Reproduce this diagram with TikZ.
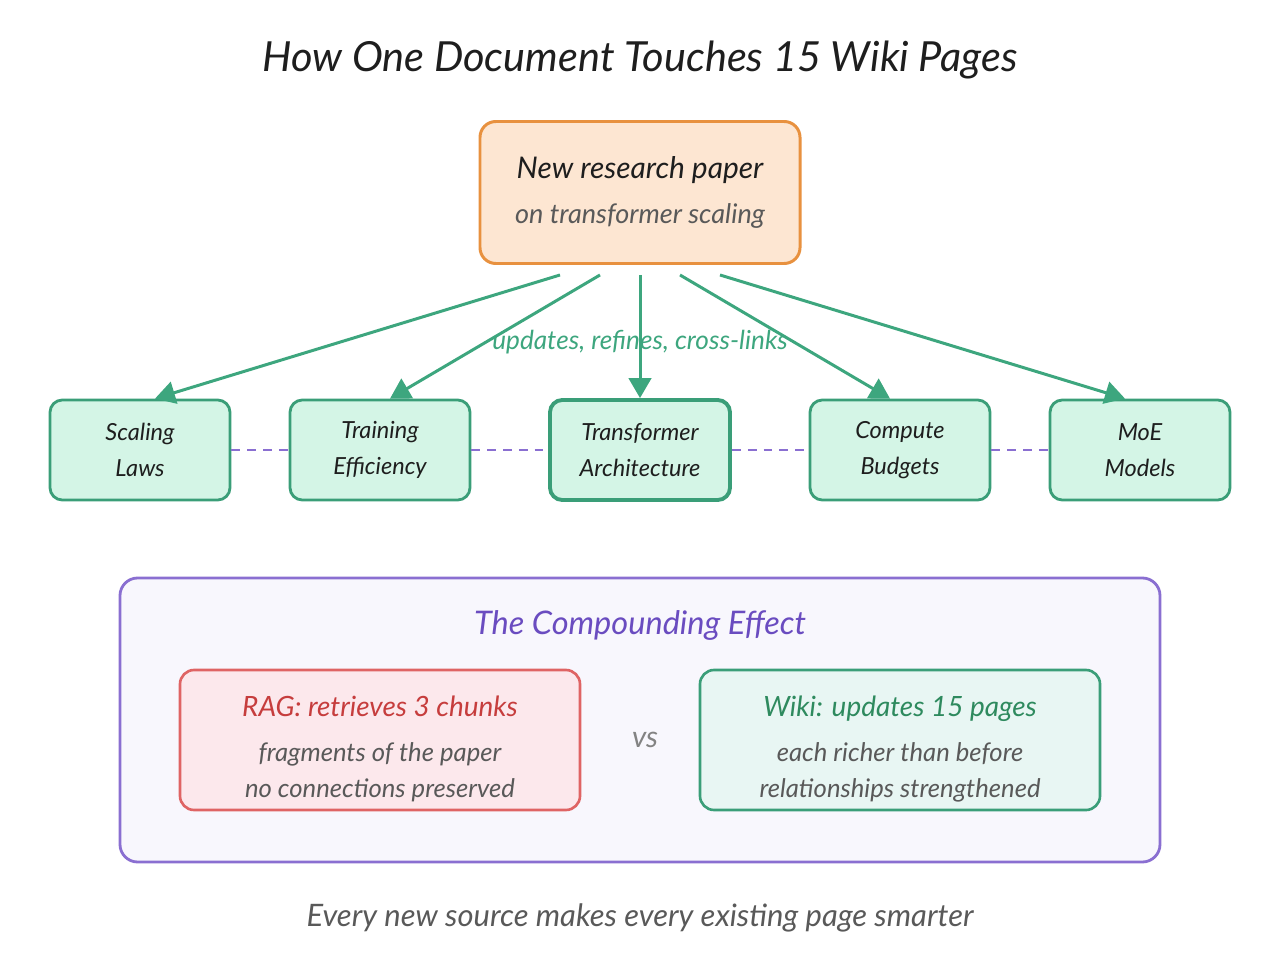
\documentclass[tikz,border=0pt]{standalone}
\usepackage{fontspec}
\setmainfont{Lato}
\usepackage{tikz}
\usetikzlibrary{positioning,arrows.meta}
\definecolor{SrcOrange}{HTML}{E8913F}
\definecolor{SrcFill}{HTML}{FDE6D2}
\definecolor{LinkGreen}{HTML}{3DA67E}
\definecolor{PageFill}{HTML}{D4F5E6}
\definecolor{PageEdge}{HTML}{3A9E78}
\definecolor{BondPurple}{HTML}{8A6FD1}
\definecolor{BondTitle}{HTML}{6A4CC0}
\definecolor{BondFill}{HTML}{F8F7FD}
\definecolor{RagRed}{HTML}{DF6464}
\definecolor{RagText}{HTML}{C63D3D}
\definecolor{RagFill}{HTML}{FCE8EC}
\definecolor{WikiText}{HTML}{2E8A5E}
\definecolor{WikiFill}{HTML}{E8F6F3}
\definecolor{InkDark}{HTML}{1E1E1E}
\definecolor{InkGray}{HTML}{595959}
\tikzset{
  srcnode/.style={draw=SrcOrange,fill=SrcFill,line width=1.7pt,rounded corners=9pt,
    minimum width=6.4cm,minimum height=2.84cm,align=center,inner sep=2pt,
    font=\fontsize{15.4}{25.5}\selectfont\itshape},
  pagenode/.style={draw=PageEdge,fill=PageFill,line width=1.6pt,rounded corners=7pt,
    minimum width=3.6cm,minimum height=2.0cm,align=center,inner sep=2pt,
    font=\fontsize{13.4}{20.4}\selectfont\itshape\color{InkDark}},
  cmpnode/.style={line width=1.5pt,rounded corners=8pt,
    minimum width=8.0cm,minimum height=2.8cm,align=center,inner sep=2pt,
    font=\fontsize{14.6}{20.4}\selectfont\itshape\color{InkGray}},
  linkarrow/.style={line width=1.7pt,draw=LinkGreen,
    -{Triangle[width=0.45cm,length=0.4cm]},fill=LinkGreen},
  peerlink/.style={line width=1.1pt,draw=BondPurple,dash pattern=on 5pt off 4pt},
}

\begin{document}
\begin{tikzpicture}
  \useasboundingbox (0,0) rectangle (25.6,-19.2);
  \node[font=\fontsize{23.6}{28}\selectfont\itshape\color{InkDark}] (title) at (12.8,-1.2)
    {How One Document Touches 15 Wiki Pages};
  \node[srcnode] (src) at (12.8,-3.85)
    {{\fontsize{17}{20}\selectfont\color{InkDark}New research paper}\\
     {\color{InkGray}on transformer scaling}};
  % wiki pages
  \node[pagenode] (laws) at (2.8,-9.0) {Scaling\\Laws};
  \node[pagenode] (eff) at (7.6,-9.0) {Training\\Efficiency};
  \node[pagenode,line width=2.2pt] (arch) at (12.8,-9.0) {Transformer\\Architecture};
  \node[pagenode] (budg) at (18.0,-9.0) {Compute\\Budgets};
  \node[pagenode] (moe) at (22.8,-9.0) {MoE\\Models};
  \draw[peerlink] (laws.east) -- (eff.west);
  \draw[peerlink] (eff.east) -- (arch.west);
  \draw[peerlink] (arch.east) -- (budg.west);
  \draw[peerlink] (budg.east) -- (moe.west);
  \draw[linkarrow] ([xshift=-1.6cm,yshift=-0.2cm]src.south) -- ([xshift=0.3cm]laws.north);
  \draw[linkarrow] ([xshift=-0.8cm,yshift=-0.2cm]src.south) -- ([xshift=0.2cm]eff.north);
  \draw[linkarrow] ([yshift=-0.2cm]src.south) -- (arch.north);
  \draw[linkarrow] ([xshift=0.8cm,yshift=-0.2cm]src.south) -- ([xshift=-0.2cm]budg.north);
  \draw[linkarrow] ([xshift=1.6cm,yshift=-0.2cm]src.south) -- ([xshift=-0.3cm]moe.north);
  \node[font=\fontsize{14.9}{18}\selectfont\itshape\color{LinkGreen}] (upd) at (12.8,-6.84)
    {updates, refines, cross-links};
  % compounding panel
  \node[draw=BondPurple,fill=BondFill,line width=1.6pt,rounded corners=10pt,
    minimum width=20.8cm,minimum height=5.68cm] (panel) at (12.8,-14.4) {};
  \node[font=\fontsize{18.5}{22}\selectfont\itshape\color{BondTitle}] (ptitle) at (12.8,-12.5)
    {The Compounding Effect};
  \node[cmpnode,draw=RagRed,fill=RagFill] (rag) at (7.6,-14.8)
    {\rule{0pt}{22pt}{\fontsize{15.9}{20}\selectfont\color{RagText}RAG: retrieves 3 chunks}\\[5pt]
     fragments of the paper\\
     no connections preserved};
  \node[cmpnode,draw=PageEdge,fill=WikiFill] (wiki) at (18.0,-14.8)
    {\rule{0pt}{22pt}{\fontsize{15.9}{20}\selectfont\color{WikiText}Wiki: updates 15 pages}\\[5pt]
     each richer than before\\
     relationships strengthened};
  \node[font=\fontsize{17}{20}\selectfont\itshape\color{InkGray!75}] (vs) at (12.9,-14.8) {vs};
  \node[font=\fontsize{17.6}{21}\selectfont\itshape\color{InkGray}] (foot) at (12.8,-18.36)
    {Every new source makes every existing page smarter};
\end{tikzpicture}
\end{document}
